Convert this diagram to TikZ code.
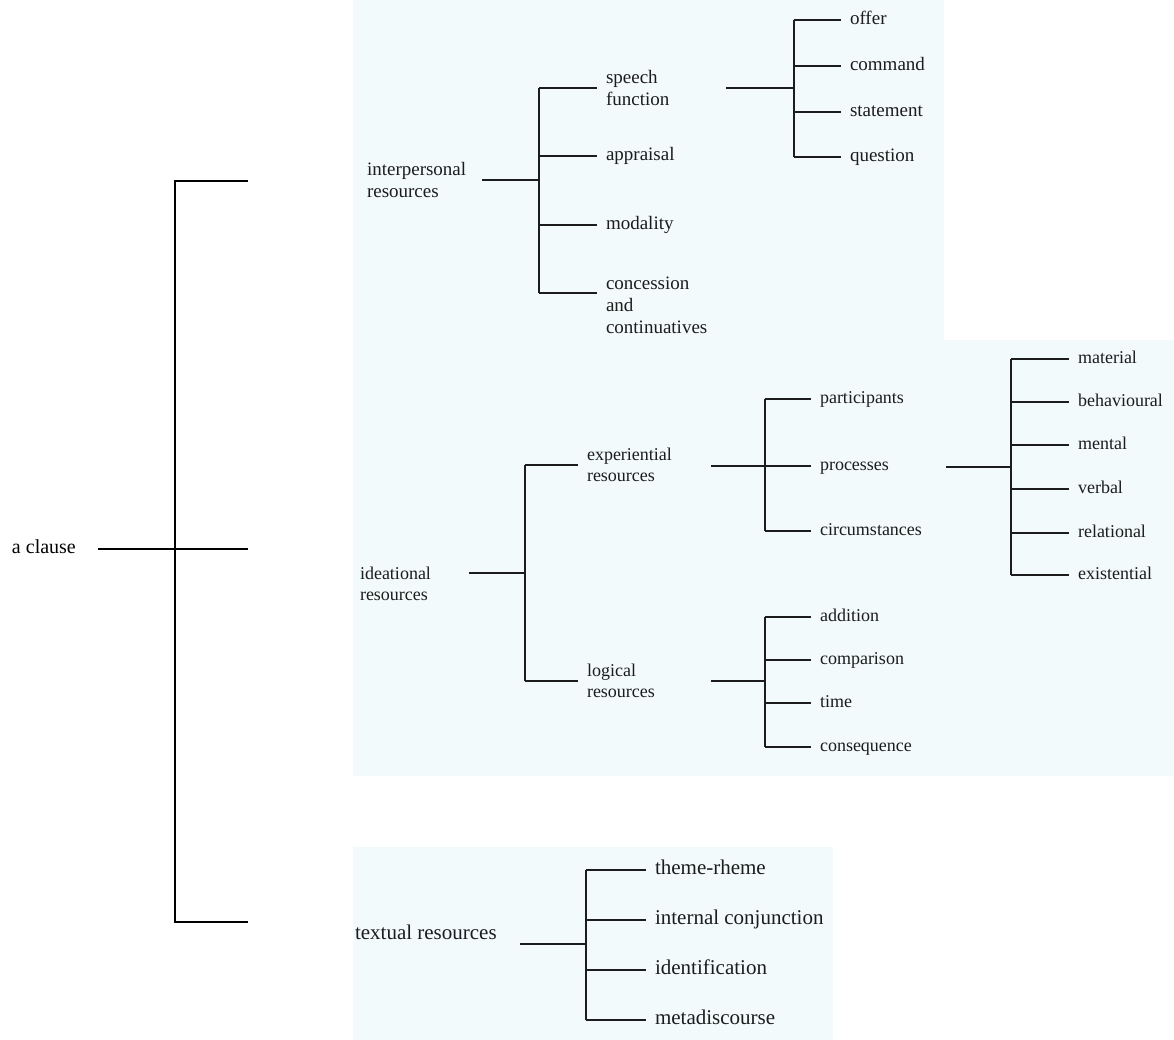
\documentclass[tikz,border=0pt]{standalone}
\usepackage{fontspec}
\setmainfont{Liberation Serif}
\usepackage{tikz}
\definecolor{scanbg}{RGB}{242,250,252}
\definecolor{inkgrey}{RGB}{28,28,28}

\begin{document}
\begin{tikzpicture}[x=1pt, y=-1pt,
  tree/.style={draw=inkgrey, line width=1.4pt},
  bracket/.style={draw=black, line width=2pt, line join=miter},
  leaf/.style={anchor=west, inner sep=0pt, outer xsep=9pt, text=inkgrey,
    text height=2.2ex, text depth=.2ex},
  multi/.style={anchor=west, inner sep=0pt, outer xsep=9pt, text=inkgrey, align=left},
  pone/.style={font=\fontsize{19}{22}\selectfont},
  ptwo/.style={font=\fontsize{18}{21.5}\selectfont},
  pthree/.style={font=\fontsize{21}{24}\selectfont}]

\useasboundingbox (0,0) rectangle (1174,1040);

% Scanned panels
\fill[scanbg] (353,0) rectangle (944,340);
\fill[scanbg] (353,340) rectangle (1174,776);
\fill[scanbg] (353,847) rectangle (833,1040);

% Root bracket
\node[leaf, text=black, font=\fontsize{20}{24}\selectfont] (cl) at (3,549) {a clause};
\coordinate (cl-out) at (98,549);
\coordinate (cl-fork) at (175,549);
\coordinate (ip-end) at (248,181);
\coordinate (id-end) at (248,549);
\coordinate (tx-end) at (248,922);
\draw[bracket] (cl-out) -- (id-end);
\draw[bracket] (ip-end) -- (ip-end -| cl-fork) -- (tx-end -| cl-fork) -- (tx-end);

% Interpersonal resources
\node[multi, pone] (ip) at (358,180) {interpersonal\\resources};
\coordinate (ip-out) at (482,180);
\coordinate (ip-fork) at (539,180);
\node[multi, pone] (sf) at (597,88) {speech\\function};
\node[leaf, pone] (ap) at (597,156) {appraisal};
\node[leaf, pone] (mo) at (597,225) {modality};
\node[multi, pone] (cc) at (597,305) {concession\\and\\continuatives};
\coordinate (cc-in) at ([yshift=12pt]cc.west);
\draw[tree] (ip-out) -- (ip-fork);
\draw[tree] (ip-fork |- sf.west) -- (ip-fork |- cc-in);
\foreach \c in {sf, ap, mo}
  \draw[tree] (ip-fork |- \c.west) -- (\c.west);
\draw[tree] (ip-fork |- cc-in) -- (cc-in);

% Speech function
\coordinate (sf-out) at (726,88);
\coordinate (sf-fork) at (794,88);
\node[leaf, pone] (of) at (841,20) {offer};
\node[leaf, pone] (cm) at (841,66) {command};
\node[leaf, pone] (st) at (841,112) {statement};
\node[leaf, pone] (qu) at (841,157) {question};
\draw[tree] (sf-out) -- (sf-fork);
\draw[tree] (sf-fork |- of.west) -- (sf-fork |- qu.west);
\foreach \c in {of, cm, st, qu}
  \draw[tree] (sf-fork |- \c.west) -- (\c.west);

% Ideational resources
\node[multi, ptwo] (id) at (351,584) {ideational\\resources};
\coordinate (id-out) at (469,573);
\coordinate (id-fork) at (525,573);
\node[multi, ptwo] (ex) at (578,465) {experiential\\resources};
\node[multi, ptwo] (lg) at (578,681) {logical\\resources};
\draw[tree] (id-out) -- (id-fork);
\draw[tree] (id-fork |- ex.west) -- (id-fork |- lg.west);
\foreach \c in {ex, lg}
  \draw[tree] (id-fork |- \c.west) -- (\c.west);

% Experiential resources
\coordinate (ex-out) at (711,466);
\coordinate (ex-fork) at (765,466);
\node[leaf, ptwo] (pa) at (811,399) {participants};
\node[leaf, ptwo] (pr) at (811,466) {processes};
\node[leaf, ptwo] (ci) at (811,531) {circumstances};
\draw[tree] (ex-out) -- (ex-fork);
\draw[tree] (ex-fork |- pa.west) -- (ex-fork |- ci.west);
\foreach \c in {pa, pr, ci}
  \draw[tree] (ex-fork |- \c.west) -- (\c.west);

% Processes
\coordinate (pr-out) at (946,467);
\coordinate (pr-fork) at (1011,467);
\node[leaf, ptwo] (ma) at (1069,359) {material};
\node[leaf, ptwo] (be) at (1069,402) {behavioural};
\node[leaf, ptwo] (me) at (1069,445) {mental};
\node[leaf, ptwo] (ve) at (1069,489) {verbal};
\node[leaf, ptwo] (re) at (1069,533) {relational};
\node[leaf, ptwo] (es) at (1069,575) {existential};
\draw[tree] (pr-out) -- (pr-fork);
\draw[tree] (pr-fork |- ma.west) -- (pr-fork |- es.west);
\foreach \c in {ma, be, me, ve, re, es}
  \draw[tree] (pr-fork |- \c.west) -- (\c.west);

% Logical resources
\coordinate (lg-out) at (711,681);
\coordinate (lg-fork) at (765,681);
\node[leaf, ptwo] (ad) at (811,617) {addition};
\node[leaf, ptwo] (co) at (811,660) {comparison};
\node[leaf, ptwo] (ti) at (811,703) {time};
\node[leaf, ptwo] (cs) at (811,747) {consequence};
\draw[tree] (lg-out) -- (lg-fork);
\draw[tree] (lg-fork |- ad.west) -- (lg-fork |- cs.west);
\foreach \c in {ad, co, ti, cs}
  \draw[tree] (lg-fork |- \c.west) -- (\c.west);

% Textual resources
\node[leaf, pthree] (tx) at (346,935) {textual resources};
\coordinate (tx-out) at (520,944);
\coordinate (tx-fork) at (586,944);
\node[leaf, pthree] (th) at (646,870) {theme-rheme};
\node[leaf, pthree] (ic) at (646,920) {internal conjunction};
\node[leaf, pthree] (idf) at (646,970) {identification};
\node[leaf, pthree] (md) at (646,1020) {metadiscourse};
\draw[tree] (tx-out) -- (tx-fork);
\draw[tree] (tx-fork |- th.west) -- (tx-fork |- md.west);
\foreach \c in {th, ic, idf, md}
  \draw[tree] (tx-fork |- \c.west) -- (\c.west);

\end{tikzpicture}
\end{document}
